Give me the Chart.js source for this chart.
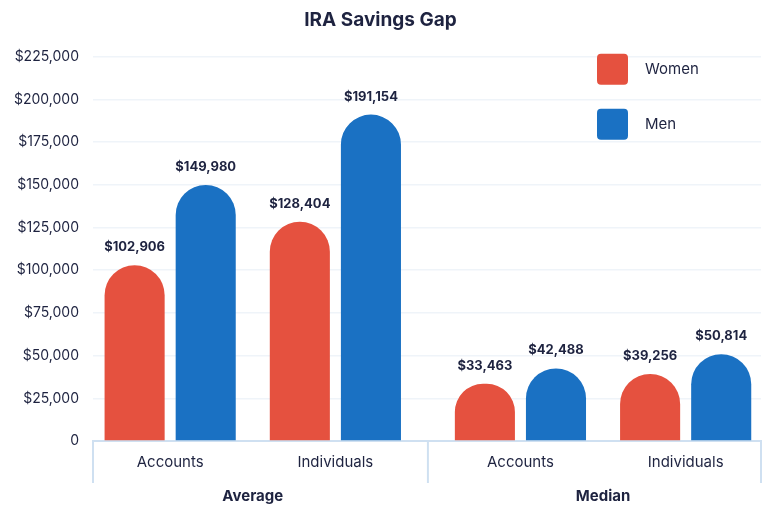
<!DOCTYPE html>
<html>
<head>
<meta charset="utf-8">
<title>IRA Savings Gap</title>
<script src="https://cdn.jsdelivr.net/npm/chart.js@4"></script>
<style>
    html, body { margin: 0; padding: 0; background: #fff; }
    #wrap { width: 768px; height: 516px; }
</style>
</head>
<body>
<div id="wrap"><canvas id="gapChart"></canvas></div>
<script>
const categories = ["Accounts", "Individuals", "Accounts", "Individuals"];
const groups = ["Average", "Median"];
const groupOf = [0, 0, 1, 1];
const women = [102906, 128404, 33463, 39256];
const men = [149980, 191154, 42488, 50814];
const yTicks = [0, 25000, 50000, 75000, 100000, 125000, 150000, 175000, 200000, 225000];

const FONT = "Inter, 'Open Sans', sans-serif";
const TEXT = "#1e2340";
const WOMEN_COLOR = "#e5513f";
const MEN_COLOR = "#1a71c3";
const LINE_COLOR = "#cfe0f1";

// extra space between the Average and Median blocks, in category units
const GROUP_GAP = 0.12;
const xPos = categories.map((c, i) => i + groupOf[i] * GROUP_GAP);
const xMin = xPos[0] - 0.467;
const xMax = xPos[xPos.length - 1] + 0.456;
const groupCenters = groups.map((g, gi) => {
    const members = xPos.filter((v, i) => groupOf[i] === gi);
    return members.reduce((a, b) => a + b, 0) / members.length;
});
const separators = [];
for (let i = 1; i < xPos.length; i++) {
    if (groupOf[i] !== groupOf[i - 1]) separators.push((xPos[i] + xPos[i - 1]) / 2);
}

function money(v) {
    return "$" + v.toLocaleString("en-US");
}

const barLabels = {
    id: "barLabels",
    afterDatasetsDraw(chart) {
        const ctx = chart.ctx;
        ctx.save();
        ctx.font = "bold 13px " + FONT;
        ctx.fillStyle = TEXT;
        ctx.textAlign = "center";
        ctx.textBaseline = "middle";
        chart.data.datasets.forEach((ds, di) => {
            chart.getDatasetMeta(di).data.forEach((bar, i) => {
                ctx.fillText(money(ds.data[i].y), bar.x, bar.y - 18);
            });
        });
        ctx.restore();
    }
};

const boxLegend = {
    id: "boxLegend",
    afterDatasetsDraw(chart) {
        const ctx = chart.ctx;
        const area = chart.chartArea;
        ctx.save();
        ctx.font = "15px " + FONT;
        ctx.textBaseline = "middle";
        chart.data.datasets.forEach((ds, i) => {
            const x = area.right - 164;
            const y = area.top - 3 + i * 55;
            ctx.fillStyle = ds.backgroundColor;
            ctx.beginPath();
            ctx.roundRect(x, y, 31, 31, 4);
            ctx.fill();
            ctx.fillStyle = TEXT;
            ctx.fillText(ds.label, x + 48, y + 15.5);
        });
        ctx.restore();
    }
};

const groupLines = {
    id: "groupLines",
    afterDraw(chart) {
        const ctx = chart.ctx;
        const area = chart.chartArea;
        const xs = [area.left, ...separators.map(v => chart.scales.x.getPixelForValue(v)), area.right];
        ctx.save();
        ctx.strokeStyle = LINE_COLOR;
        ctx.lineWidth = 2;
        xs.forEach(x => {
            ctx.beginPath();
            ctx.moveTo(x, area.bottom);
            ctx.lineTo(x, area.bottom + 42);
            ctx.stroke();
        });
        ctx.restore();
    }
};

new Chart(document.getElementById("gapChart"), {
    type: "bar",
    data: {
        datasets: [
            {
                label: "Women",
                data: women.map((v, i) => ({ x: xPos[i], y: v })),
                backgroundColor: WOMEN_COLOR
            },
            {
                label: "Men",
                data: men.map((v, i) => ({ x: xPos[i], y: v })),
                backgroundColor: MEN_COLOR
            }
        ]
    },
    options: {
        responsive: true,
        maintainAspectRatio: false,
        animation: false,
        categoryPercentage: 0.8606,
        barPercentage: 0.845,
        borderRadius: { topLeft: 30, topRight: 30, bottomLeft: 0, bottomRight: 0 },
        borderSkipped: false,
        layout: {
            padding: { left: 0, right: 7, top: 0, bottom: 11 }
        },
        plugins: {
            legend: { display: false },
            tooltip: { enabled: false },
            title: {
                display: true,
                text: "IRA Savings Gap",
                color: TEXT,
                font: { family: FONT, size: 19, weight: "bold" },
                padding: { top: 9, bottom: 25 }
            }
        },
        scales: {
            x: {
                type: "linear",
                position: "bottom",
                min: xMin,
                max: xMax,
                offset: false,
                afterBuildTicks(scale) {
                    scale.ticks = xPos.map(v => ({ value: v }));
                },
                afterFit(scale) {
                    scale.height = 30;
                },
                grid: { display: false, drawTicks: false },
                border: { display: true, color: LINE_COLOR, width: 2 },
                ticks: {
                    autoSkip: false,
                    maxRotation: 0,
                    padding: 12,
                    color: TEXT,
                    font: { family: FONT, size: 15 },
                    callback: (v, i) => categories[i]
                }
            },
            x2: {
                type: "linear",
                position: "bottom",
                min: xMin,
                max: xMax,
                offset: false,
                afterBuildTicks(scale) {
                    scale.ticks = groupCenters.map(v => ({ value: v }));
                },
                afterFit(scale) {
                    scale.height = 34;
                },
                grid: { display: false, drawTicks: false },
                border: { display: false },
                ticks: {
                    autoSkip: false,
                    maxRotation: 0,
                    padding: 16,
                    color: TEXT,
                    font: { family: FONT, size: 15, weight: "bold" },
                    callback: (v, i) => groups[i]
                }
            },
            y: {
                min: yTicks[0],
                max: yTicks[yTicks.length - 1],
                afterBuildTicks(scale) {
                    scale.ticks = yTicks.map(v => ({ value: v }));
                },
                afterFit(scale) {
                    scale.width = 93;
                },
                border: { display: false },
                grid: { color: "#eff4f9", lineWidth: 1.5, drawTicks: false },
                ticks: {
                    padding: 14,
                    color: TEXT,
                    font: { family: FONT, size: 14 },
                    callback: v => v === 0 ? "0" : money(v)
                }
            }
        }
    },
    plugins: [barLabels, boxLegend, groupLines]
});
</script>
</body>
</html>
